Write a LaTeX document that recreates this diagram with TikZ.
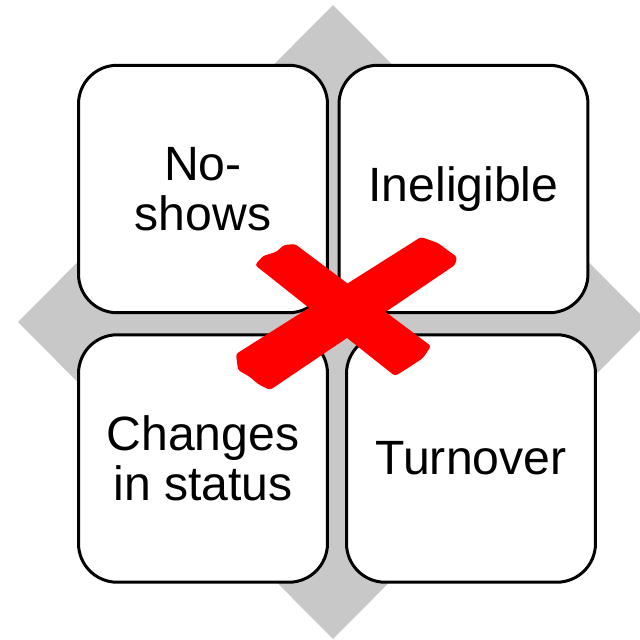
\documentclass[tikz,border=0pt]{standalone}
\usepackage{fontspec}
\setmainfont{Liberation Sans}
\definecolor{diamondgray}{HTML}{C8C8C8}
\definecolor{crossred}{HTML}{FF0000}
\tikzset{
    quad/.style={draw=black, line width=1.7pt, fill=white, rounded corners=22pt,
        minimum width=4.98cm, minimum height=4.95cm, align=center,
        font=\fontsize{27.4}{28.6}\selectfont},
    stroke/.style={fill=crossred, draw=none, rounded corners=1.5pt},
}
\begin{document}
\begin{tikzpicture}[x=0.02cm, y=-0.02cm]
    \clip (0,0) rectangle (640,640);
    \useasboundingbox (0,0) rectangle (640,640);

    % Background diamond
    \fill[diamondgray] (333,5) -- (18,322) -- (333,639) -- (648,322) -- cycle;

    % Quadrants
    \node[quad] (noshows) at (203,189) {No-\\shows};
    \node[quad] (inelig) at (463.5,189) {Ineligible};
    \node[quad] (changes) at (203,458.5) {Changes\\in status};
    \node[quad] (turnover) at (471,458.5) {Turnover};

    % Red cross
    \fill[stroke] (255,265) -- (263,256) -- (276,252) -- (284,245) -- (295,244)
        -- (431,346) -- (423,358) -- (408,368) -- (395,376) -- cycle;
    \fill[stroke] (236,354) -- (238,370) -- (250,377) -- (258,384) -- (270,390)
        -- (455,265) -- (457,257) -- (446,249) -- (438,243) -- (421,237) -- cycle;
\end{tikzpicture}
\end{document}
